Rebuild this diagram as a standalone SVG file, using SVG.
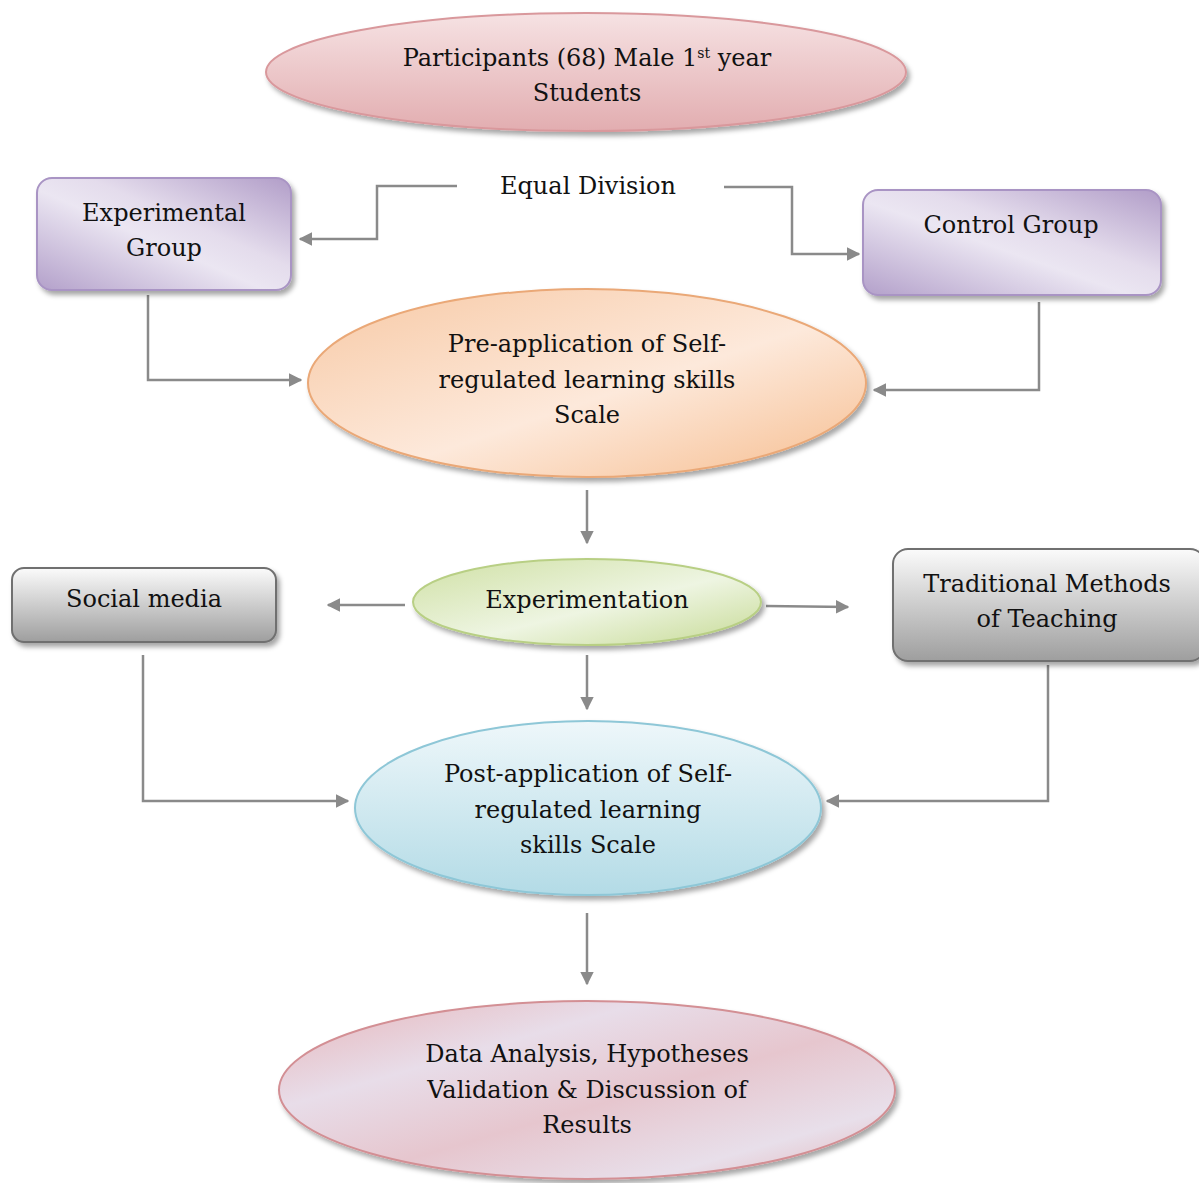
<svg xmlns="http://www.w3.org/2000/svg" width="1199" height="1183" viewBox="0 0 1199 1183">
<defs>
<style>
.t{font-family:"DejaVu Serif","Liberation Serif",serif;font-size:24px;fill:#111;text-anchor:middle}
.c{fill:none;stroke:#8a8a8a;stroke-width:2.5}
</style>
<filter id="sh" x="-10%" y="-10%" width="125%" height="130%">
<feDropShadow dx="3" dy="4" stdDeviation="2.5" flood-color="#000" flood-opacity="0.35"/>
</filter>
<marker id="ah" viewBox="0 0 10 10" refX="9" refY="5" markerWidth="5.5" markerHeight="5.5" markerUnits="strokeWidth" orient="auto">
<path d="M0,0 L10,5 L0,10 Z" fill="#8a8a8a"/>
</marker>
<linearGradient id="gPink" x1="0" y1="0" x2="0" y2="1">
<stop offset="0" stop-color="#f6e2e3"/><stop offset="1" stop-color="#e2adb0"/>
</linearGradient>
<linearGradient id="gPurple" x1="0" y1="1" x2="1" y2="0">
<stop offset="0" stop-color="#b3a0ca"/><stop offset="0.45" stop-color="#ebe6f2"/><stop offset="0.6" stop-color="#e4dcec"/><stop offset="1" stop-color="#b19dc8"/>
</linearGradient>
<linearGradient id="gOrange" x1="0" y1="0" x2="1" y2="1">
<stop offset="0" stop-color="#f7c9a5"/><stop offset="0.55" stop-color="#fde9db"/><stop offset="1" stop-color="#f6bd8f"/>
</linearGradient>
<linearGradient id="gGreen" x1="0" y1="0" x2="1" y2="1">
<stop offset="0" stop-color="#cfe0a4"/><stop offset="0.55" stop-color="#eef5e2"/><stop offset="1" stop-color="#c6da94"/>
</linearGradient>
<linearGradient id="gGrey" x1="0" y1="0" x2="0" y2="1">
<stop offset="0" stop-color="#fbfbfb"/><stop offset="1" stop-color="#9e9e9e"/>
</linearGradient>
<linearGradient id="gBlue" x1="0" y1="0" x2="0" y2="1">
<stop offset="0" stop-color="#eef7fa"/><stop offset="1" stop-color="#b3dbe6"/>
</linearGradient>
<linearGradient id="gFinal" x1="0" y1="0" x2="1" y2="1">
<stop offset="0" stop-color="#e6b4b8"/><stop offset="0.3" stop-color="#e8dde9"/><stop offset="0.55" stop-color="#e6c6ce"/><stop offset="0.8" stop-color="#e8dfea"/><stop offset="1" stop-color="#e2b2b6"/>
</linearGradient>
</defs>
<rect width="1199" height="1183" fill="#fff"/>

<g id="connectors">
<polyline class="c" points="457,186 377,186 377,239 300,239" marker-end="url(#ah)"/>
<polyline class="c" points="724,187 792,187 792,254 859,254" marker-end="url(#ah)"/>
<polyline class="c" points="148,295 148,380 301,380" marker-end="url(#ah)"/>
<polyline class="c" points="1039,302 1039,390 874,390" marker-end="url(#ah)"/>
<line class="c" x1="587" y1="490" x2="587" y2="543" marker-end="url(#ah)"/>
<line class="c" x1="405" y1="605" x2="328" y2="605" marker-end="url(#ah)"/>
<line class="c" x1="766" y1="606" x2="848" y2="607" marker-end="url(#ah)"/>
<line class="c" x1="587" y1="655" x2="587" y2="709" marker-end="url(#ah)"/>
<polyline class="c" points="143,655 143,801 348,801" marker-end="url(#ah)"/>
<polyline class="c" points="1048,665 1048,801 827,801" marker-end="url(#ah)"/>
<line class="c" x1="587" y1="913" x2="587" y2="984" marker-end="url(#ah)"/>
</g>

<g id="participants">
<ellipse cx="586" cy="72" rx="320" ry="59" fill="url(#gPink)" stroke="#d9989c" stroke-width="2" filter="url(#sh)"/>
<text class="t" x="587" y="66">Participants (68) Male 1<tspan font-size="14" dy="-8">st</tspan><tspan dy="8"> year</tspan></text>
<text class="t" x="587" y="101">Students</text>
</g>

<g id="equal-division">
<text class="t" x="588" y="194">Equal Division</text>
</g>

<g id="experimental-group">
<rect x="37" y="178" width="254" height="112" rx="15" fill="url(#gPurple)" stroke="#a994c4" stroke-width="2" filter="url(#sh)"/>
<text class="t" x="164" y="221">Experimental</text>
<text class="t" x="164" y="256">Group</text>
</g>

<g id="control-group">
<rect x="863" y="190" width="298" height="105" rx="15" fill="url(#gPurple)" stroke="#a994c4" stroke-width="2" filter="url(#sh)"/>
<text class="t" x="1011" y="233">Control Group</text>
</g>

<g id="pre-application">
<ellipse cx="587" cy="383" rx="279" ry="94" fill="url(#gOrange)" stroke="#eaa877" stroke-width="2" filter="url(#sh)"/>
<text class="t" x="587" y="352">Pre-application of Self-</text>
<text class="t" x="587" y="388">regulated learning skills</text>
<text class="t" x="587" y="423">Scale</text>
</g>

<g id="experimentation">
<ellipse cx="587" cy="602" rx="174" ry="43" fill="url(#gGreen)" stroke="#b8cf84" stroke-width="2" filter="url(#sh)"/>
<text class="t" x="587" y="608">Experimentation</text>
</g>

<g id="social-media">
<rect x="12" y="568" width="264" height="74" rx="12" fill="url(#gGrey)" stroke="#707070" stroke-width="2" filter="url(#sh)"/>
<text class="t" x="144" y="607">Social media</text>
</g>

<g id="traditional-methods">
<rect x="893" y="549" width="312" height="112" rx="15" fill="url(#gGrey)" stroke="#707070" stroke-width="2" filter="url(#sh)"/>
<text class="t" x="1047" y="592">Traditional Methods</text>
<text class="t" x="1047" y="627">of Teaching</text>
</g>

<g id="post-application">
<ellipse cx="588" cy="808" rx="233" ry="87" fill="url(#gBlue)" stroke="#8ec7d7" stroke-width="2" filter="url(#sh)"/>
<text class="t" x="588" y="782">Post-application of Self-</text>
<text class="t" x="588" y="818">regulated learning</text>
<text class="t" x="588" y="853">skills Scale</text>
</g>

<g id="data-analysis">
<ellipse cx="587" cy="1090" rx="308" ry="89" fill="url(#gFinal)" stroke="#d38f94" stroke-width="2" filter="url(#sh)"/>
<text class="t" x="587" y="1062">Data Analysis, Hypotheses</text>
<text class="t" x="587" y="1098">Validation &amp; Discussion of</text>
<text class="t" x="587" y="1133">Results</text>
</g>
</svg>
